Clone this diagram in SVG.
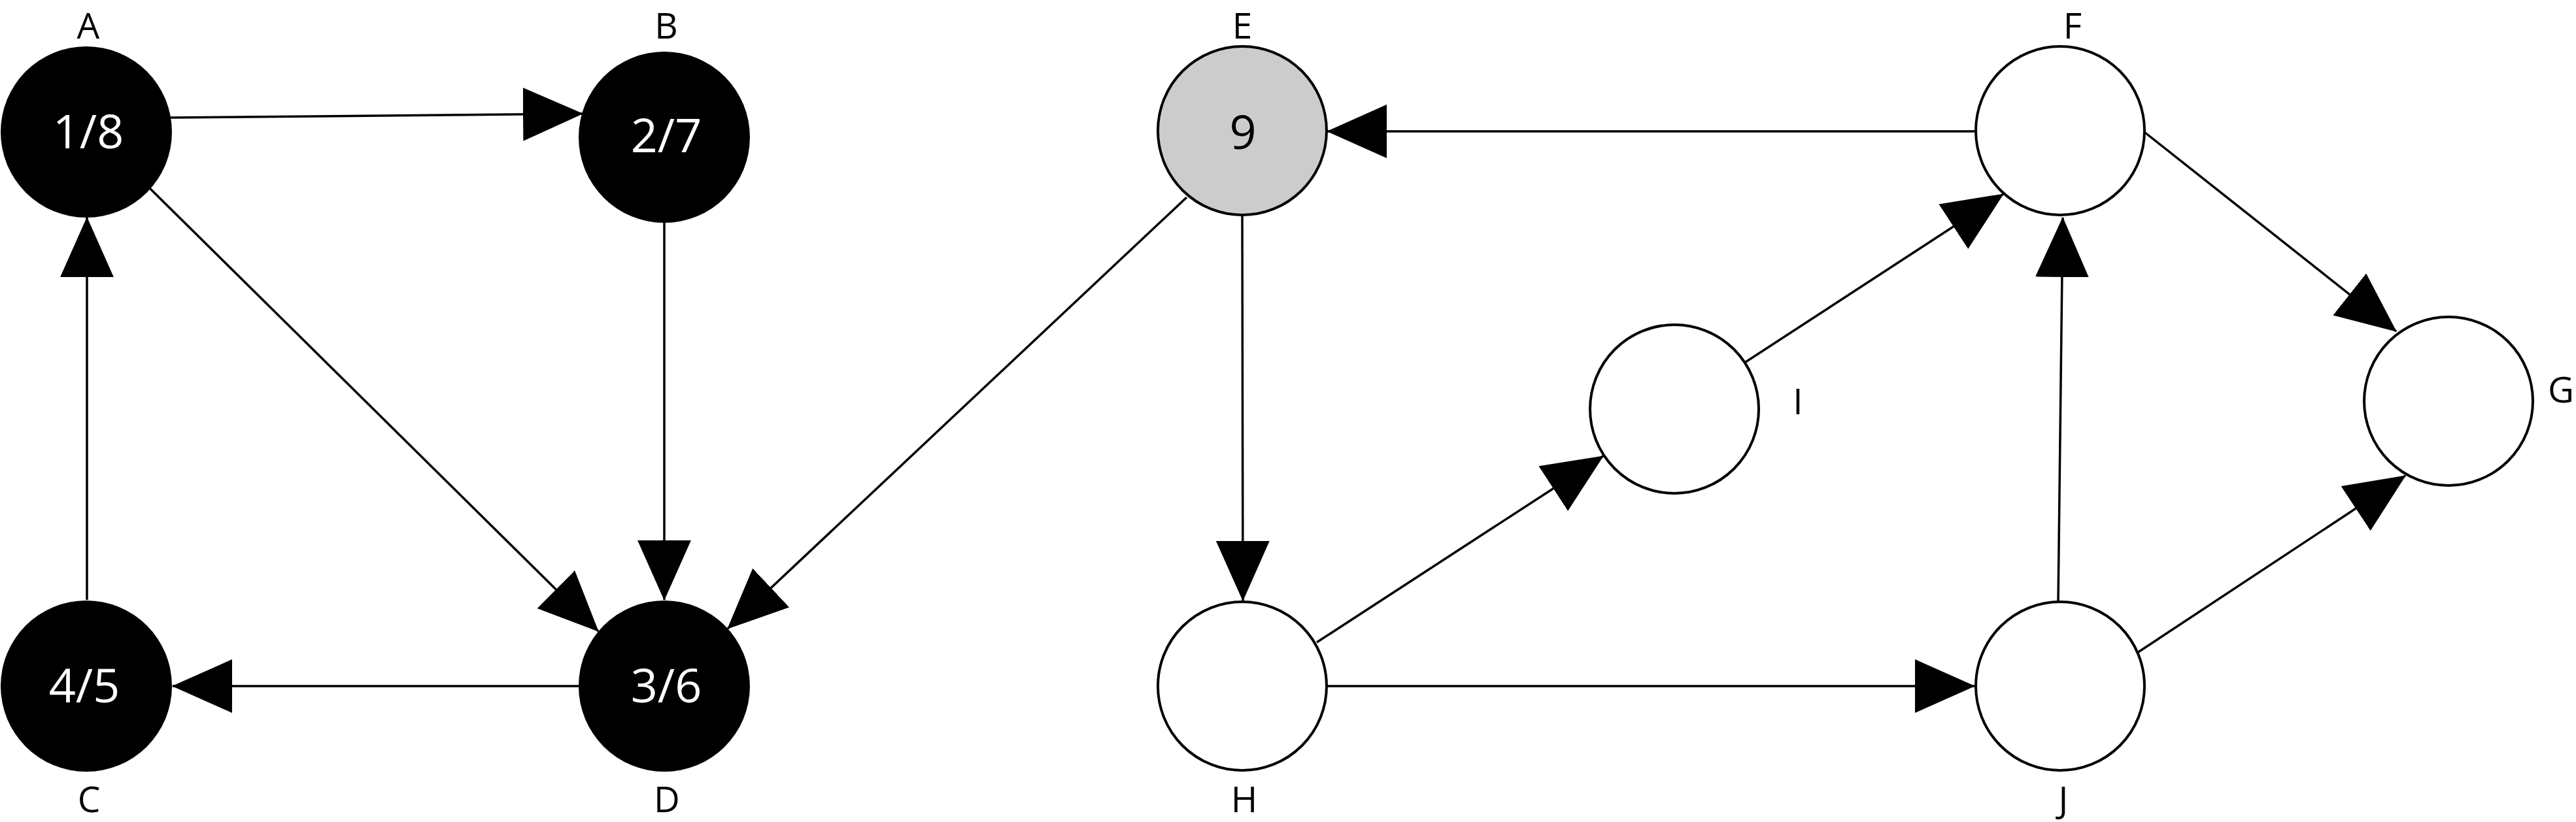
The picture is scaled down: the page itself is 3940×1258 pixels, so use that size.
<svg xmlns="http://www.w3.org/2000/svg" width="3940" height="1258" viewBox="0 0 3940 1258">
<style>
.bg{fill:#ffffff}
.edge{fill:none;stroke:#000;stroke-width:3.5;marker-end:url(#arrow)}
.done{fill:#000;stroke:none}
.open{fill:#fff;stroke:#000;stroke-width:4}
.grey{fill:#cccccc;stroke:#000;stroke-width:4}
.num{font-family:"Open Sans","Noto Sans","DejaVu Sans",sans-serif;font-size:72px;text-anchor:middle}
.w{fill:#fff}
.k{fill:#000}
.lbl{font-family:"Open Sans","Noto Sans","DejaVu Sans",sans-serif;font-size:55px;text-anchor:middle;fill:#000}
</style>
<defs>
<marker id="arrow" markerUnits="userSpaceOnUse" markerWidth="92" markerHeight="82" viewBox="0 0 90 80" refX="89" refY="40" orient="auto">
<path d="M0,0 L90,40 L0,80 Z" fill="#000"/>
</marker>
</defs>
<rect class="bg" x="0" y="0" width="3940" height="1258"/>
<g id="connectors">
<path class="edge" d="M261,180 L891,174"/>
<path class="edge" d="M133,918 L133,333"/>
<path class="edge" d="M229,288 L915,966"/>
<path class="edge" d="M1016,341 L1016,918"/>
<path class="edge" d="M1815,302 L1113,962"/>
<path class="edge" d="M885,1050 L264,1050"/>
<path class="edge" d="M3020,201 L2030,201"/>
<path class="edge" d="M1900,331 L1901,919"/>
<path class="edge" d="M2014,983 L2452,698"/>
<path class="edge" d="M2030,1050 L3020,1050"/>
<path class="edge" d="M2670,554 L3064,297"/>
<path class="edge" d="M3148,920 L3155,333"/>
<path class="edge" d="M3281,203 L3665,507"/>
<path class="edge" d="M3269,999 L3679,728"/>
</g>
<g id="node-A">
<circle class="done" cx="132" cy="202" r="131"/>
<text class="num w" x="135" y="227">1/8</text>
<text class="lbl" x="135" y="59">A</text>
</g>
<g id="node-B">
<circle class="done" cx="1016" cy="210" r="131"/>
<text class="num w" x="1019" y="233">2/7</text>
<text class="lbl" x="1019" y="59">B</text>
</g>
<g id="node-C">
<circle class="done" cx="132" cy="1050" r="131"/>
<text class="num w" x="129" y="1075">4/5</text>
<text class="lbl" x="136" y="1243">C</text>
</g>
<g id="node-D">
<circle class="done" cx="1016" cy="1050" r="131"/>
<text class="num w" x="1019" y="1075">3/6</text>
<text class="lbl" x="1020" y="1243">D</text>
</g>
<g id="node-E">
<circle class="grey" cx="1900" cy="200" r="129"/>
<text class="num k" x="1901" y="228">9</text>
<text class="lbl" x="1900" y="59">E</text>
</g>
<g id="node-F">
<circle class="open" cx="3151" cy="200" r="129"/>
<text class="lbl" x="3170" y="59">F</text>
</g>
<g id="node-G">
<circle class="open" cx="3745" cy="614" r="129"/>
<text class="lbl" x="3917" y="616">G</text>
</g>
<g id="node-H">
<circle class="open" cx="1900" cy="1050" r="129"/>
<text class="lbl" x="1903" y="1243">H</text>
</g>
<g id="node-I">
<circle class="open" cx="2561" cy="626" r="129"/>
<text class="lbl" x="2750" y="634">I</text>
</g>
<g id="node-J">
<circle class="open" cx="3151" cy="1050" r="129"/>
<text class="lbl" x="3156" y="1243">J</text>
</g>
</svg>
